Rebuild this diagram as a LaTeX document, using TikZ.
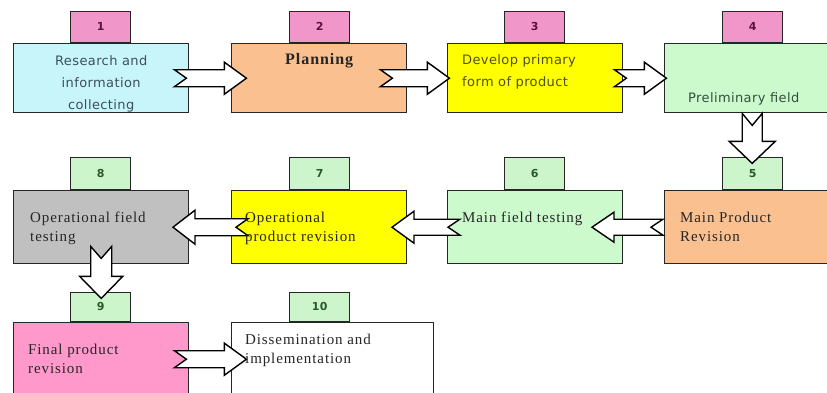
\documentclass[tikz,border=0pt]{standalone}
\usepackage{fontspec}
\setmainfont{Liberation Serif}[LetterSpace=6]
\newfontfamily\stagesans{DejaVu Sans}[LetterSpace=3]
\usetikzlibrary{calc}

\definecolor{cyanbox}{RGB}{200,245,250}
\definecolor{orangebox}{RGB}{250,192,144}
\definecolor{yellowbox}{RGB}{255,255,0}
\definecolor{greenbox}{RGB}{204,250,204}
\definecolor{graybox}{RGB}{192,192,192}
\definecolor{pinkbox}{RGB}{255,153,204}
\definecolor{pinktab}{RGB}{240,150,200}
\definecolor{greentab}{RGB}{204,245,204}
\definecolor{numpurple}{RGB}{90,20,60}
\definecolor{numgreen}{RGB}{40,90,40}
\definecolor{textteal}{RGB}{60,80,90}
\definecolor{textolive}{RGB}{80,80,30}
\definecolor{textgreen}{RGB}{50,80,60}

\tikzset{
  stage/.style={draw=black!85, line width=1.4pt, minimum width=175pt,
    anchor=north west, inner sep=0pt},
  tab/.style={draw=black!85, line width=1.4pt, minimum width=60pt,
    anchor=south west, inner sep=0pt, font=\stagesans\bfseries\fontsize{11}{13}\selectfont},
  flow/.style={draw=black, line width=1.4pt, fill=white, line join=miter},
  sanstext/.style={anchor=north west, align=left, inner sep=0pt,
    font=\stagesans\fontsize{13}{22}\selectfont},
  seriftext/.style={anchor=north west, align=left, inner sep=0pt,
    text=black!85, font=\fontsize{15}{19}\selectfont},
}

% block arrow: tail, angle, length, shaft half width, head half width
\newcommand{\flowarrow}[5]{%
  \draw[flow, shift={#1}, rotate=#2] (0,#4) -- (#3-22,#4) -- (#3-22,#5)
    -- (#3,0) -- (#3-22,-#5) -- (#3-22,-#4) -- (0,-#4) -- (12,0) -- cycle;}

\begin{document}
\begin{tikzpicture}[x=1pt, y=-1pt]
  \useasboundingbox (0,0) rectangle (827,392);
  \clip (0,0) rectangle (827,392);

  % stages
  \node[stage, fill=cyanbox, minimum height=69pt] (b1) at (13,43) {};
  \node[stage, fill=orangebox, minimum height=69pt] (b2) at (231,43) {};
  \node[stage, fill=yellowbox, minimum height=69pt] (b3) at (447,43) {};
  \node[stage, fill=greenbox, minimum height=69pt] (b4) at (664,43) {};

  \node[stage, fill=graybox, minimum height=73pt] (b8) at (13,190) {};
  \node[stage, fill=yellowbox, minimum height=73pt] (b7) at (231,190) {};
  \node[stage, fill=greenbox, minimum height=73pt] (b6) at (447,190) {};
  \node[stage, fill=orangebox, minimum height=73pt] (b5) at (664,190) {};

  \node[stage, fill=pinkbox, minimum height=73pt] (b9) at (13,322) {};
  \node[stage, fill=white, minimum height=73pt, minimum width=202pt] (b10) at (231,322) {};

  % number tabs
  \node[tab, fill=pinktab, text=numpurple, minimum height=31pt] (n1) at ($(b1.north west)+(57,0)$) {1};
  \node[tab, fill=pinktab, text=numpurple, minimum height=31pt] (n2) at ($(b2.north west)+(58,0)$) {2};
  \node[tab, fill=pinktab, text=numpurple, minimum height=31pt] (n3) at ($(b3.north west)+(57,0)$) {3};
  \node[tab, fill=pinktab, text=numpurple, minimum height=31pt] (n4) at ($(b4.north west)+(58,0)$) {4};

  \node[tab, fill=greentab, text=numgreen, minimum height=32pt] (n8) at ($(b8.north west)+(57,0)$) {8};
  \node[tab, fill=greentab, text=numgreen, minimum height=32pt] (n7) at ($(b7.north west)+(58,0)$) {7};
  \node[tab, fill=greentab, text=numgreen, minimum height=32pt] (n6) at ($(b6.north west)+(57,0)$) {6};
  \node[tab, fill=greentab, text=numgreen, minimum height=32pt] (n5) at ($(b5.north west)+(58,0)$) {5};

  \node[tab, fill=greentab, text=numgreen, minimum height=29pt] (n9) at ($(b9.north west)+(57,0)$) {9};
  \node[tab, fill=greentab, text=numgreen, minimum height=29pt] (n10) at ($(b10.north west)+(58,0)$) {10};

  % arrows
  \flowarrow{($(b1.east)+(-15,0)$)}{0}{72}{8.5}{16}
  \flowarrow{($(b2.east)+(-27,0)$)}{0}{69}{8.5}{16}
  \flowarrow{($(b3.east)+(-9,0)$)}{0}{52}{8.5}{16}
  \flowarrow{(b4.south)}{-90}{50}{10}{23}
  \flowarrow{($(b5.west)+(-1,0)$)}{180}{71}{8}{15}
  \flowarrow{($(b6.west)+(13,0)$)}{180}{68}{8}{16}
  \flowarrow{($(b7.west)+(17,0)$)}{180}{75}{8.5}{17}
  \flowarrow{($(b8.south)+(0,-18)$)}{-90}{52}{10.5}{21.5}
  \flowarrow{($(b9.east)+(-15,0)$)}{0}{72}{8.5}{16}

  % texts
  \begin{scope}
    \clip (b1.south west) rectangle (b1.north east);
    \node[sanstext, anchor=north, align=center, text=textteal] (t1) at ($(b1.north)+(0,12)$) {Research and\\information\\collecting};
  \end{scope}
  \node[font=\bfseries\fontsize{16}{19}\selectfont, text=black!85] (t2) at ($(b2.north)+(0,18)$) {Planning};
  \node[sanstext, text=textolive] (t3) at ($(b3.north west)+(15,11)$) {Develop primary\\form of product};
  \node[sanstext, anchor=base west, text=textgreen] (t4) at ($(b4.north west)+(24,59)$) {Preliminary field};

  \node[seriftext] (t8) at ($(b8.north west)+(17,22)$) {Operational field\\testing};
  \node[seriftext] (t7) at ($(b7.north west)+(14,22)$) {Operational\\product revision};
  \node[seriftext] (t6) at ($(b6.north west)+(15,22)$) {Main field testing};
  \node[seriftext] (t5) at ($(b5.north west)+(16,22)$) {Main Product\\Revision};

  \node[seriftext] (t9) at ($(b9.north west)+(15,22)$) {Final product\\revision};
  \node[seriftext] (t10) at ($(b10.north west)+(14,12)$) {Dissemination and\\implementation};
\end{tikzpicture}
\end{document}
